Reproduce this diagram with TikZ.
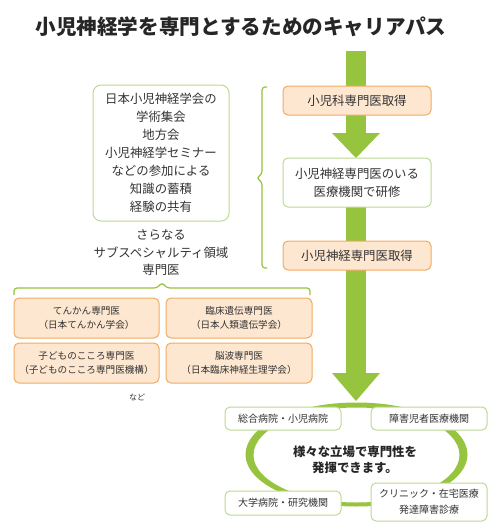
\documentclass[tikz,border=0pt]{standalone}
\usepackage{fontspec}
\setmainfont{Noto Sans CJK JP}
\definecolor{grn}{HTML}{97C43E}
\definecolor{lgrn}{HTML}{BCDA92}
\definecolor{orb}{HTML}{F2AA62}
\definecolor{orf}{HTML}{FDE7D1}
\definecolor{txt}{HTML}{333333}
\tikzset{
  obox/.style={draw=orb, fill=orf, rounded corners=5pt, line width=1pt, align=center, inner sep=0pt, text=txt},
  wbox/.style={draw=lgrn, fill=white, rounded corners=5pt, line width=1pt, align=center, inner sep=0pt, text=txt},
  plain/.style={align=center, inner sep=0pt, text=txt},
  bracestyle/.style={draw=grn, line width=1.2pt, rounded corners=3pt},
  f12/.style={font=\fontsize{12.4}{18}\selectfont},
  f10/.style={font=\fontsize{9.6}{13.5}\selectfont},
  fb/.style={font=\fontsize{10}{16}\selectfont},
}
\begin{document}
\begin{tikzpicture}[x=1pt,y=-1pt]
\useasboundingbox[fill=white] (0,0) rectangle (497,531);

% title
\node[plain, text=black!85, font=\fontsize{20.6}{24}\selectfont\bfseries] (title) at (241,27) {小児神経学を専門とするためのキャリアパス};

% big green arrow (drawn first)
\fill[grn] (346,51) rectangle (366,133);
\fill[grn] (332,133) -- (380,133) -- (356,158) -- cycle;
\fill[grn] (346,158) rectangle (366,373);
\fill[grn] (332,373) -- (380,373) -- (356,401) -- cycle;

% right column boxes
\node[obox, f12, minimum width=148pt, minimum height=29pt] (b1) at (357,100.5) {小児科専門医取得};
\node[wbox, f12, minimum width=148pt, minimum height=49pt] (b2) at (357,182.5) {小児神経専門医のいる\\医療機関で研修};
\node[obox, f12, minimum width=148pt, minimum height=29pt] (b3) at (357,255.5) {小児神経専門医取得};

% left box
\node[wbox, f12, rounded corners=8pt, minimum width=136pt, minimum height=136pt] (lb) at (161,153)
  {日本小児神経学会の\\学術集会\\地方会\\小児神経学セミナー\\などの参加による\\知識の蓄積\\経験の共有};
\node[plain, font=\fontsize{12.4}{17.5}\selectfont] (sub) at (161,253) {さらなる\\サブスペシャルティ領域\\専門医};

% braces
\coordinate (rbt) at (267,87);
\coordinate (rbb) at (267,268);
\draw[bracestyle] (rbt) -- (262,87) -- (262,174) -- (256.5,178) -- (262,182) -- (262,268) -- (rbb);
\coordinate (bbl) at (14,295);
\coordinate (bbr) at (310,295);
\draw[bracestyle] (bbl) -- (14,288) -- (157,288) -- (162,282.5) -- (167,288) -- (310,288) -- (bbr);

% sub specialty boxes
\node[obox, f10, minimum width=145pt, minimum height=40pt] (s1) at (86.5,318) {てんかん専門医\\（日本てんかん学会）};
\node[obox, f10, minimum width=146pt, minimum height=40pt] (s2) at (239,318) {臨床遺伝専門医\\（日本人類遺伝学会）};
\node[obox, f10, minimum width=145pt, minimum height=40pt] (s3) at (86.5,363) {子どものこころ専門医\\（子どものこころ専門医機構）};
\node[obox, f10, minimum width=146pt, minimum height=40pt] (s4) at (239,363) {脳波専門医\\（日本臨床神経生理学会）};
\node[plain, font=\fontsize{8}{9}\selectfont] (nado) at (137,397) {など};

% ring
\fill[grn, even odd rule] (356.5,454.5) ellipse [x radius=111, y radius=52]
  (356.5,455) ellipse [x radius=103, y radius=47.5];

% places
\node[wbox, fb, minimum width=116pt, minimum height=23pt] (p1) at (283,418.5) {総合病院・小児病院};
\node[wbox, fb, minimum width=116pt, minimum height=23pt] (p2) at (429,418.5) {障害児者医療機関};
\node[wbox, fb, minimum width=116pt, minimum height=24pt] (p3) at (283,503) {大学病院・研究機関};
\node[wbox, fb, minimum width=116pt, minimum height=38pt] (p4) at (429,502) {クリニック・在宅医療\\発達障害診療};
\node[plain, text=black!85, font=\fontsize{12.4}{16}\selectfont\bfseries] (ctr) at (355,459.5) {様々な立場で専門性を\\発揮できます。};
\end{tikzpicture}
\end{document}
